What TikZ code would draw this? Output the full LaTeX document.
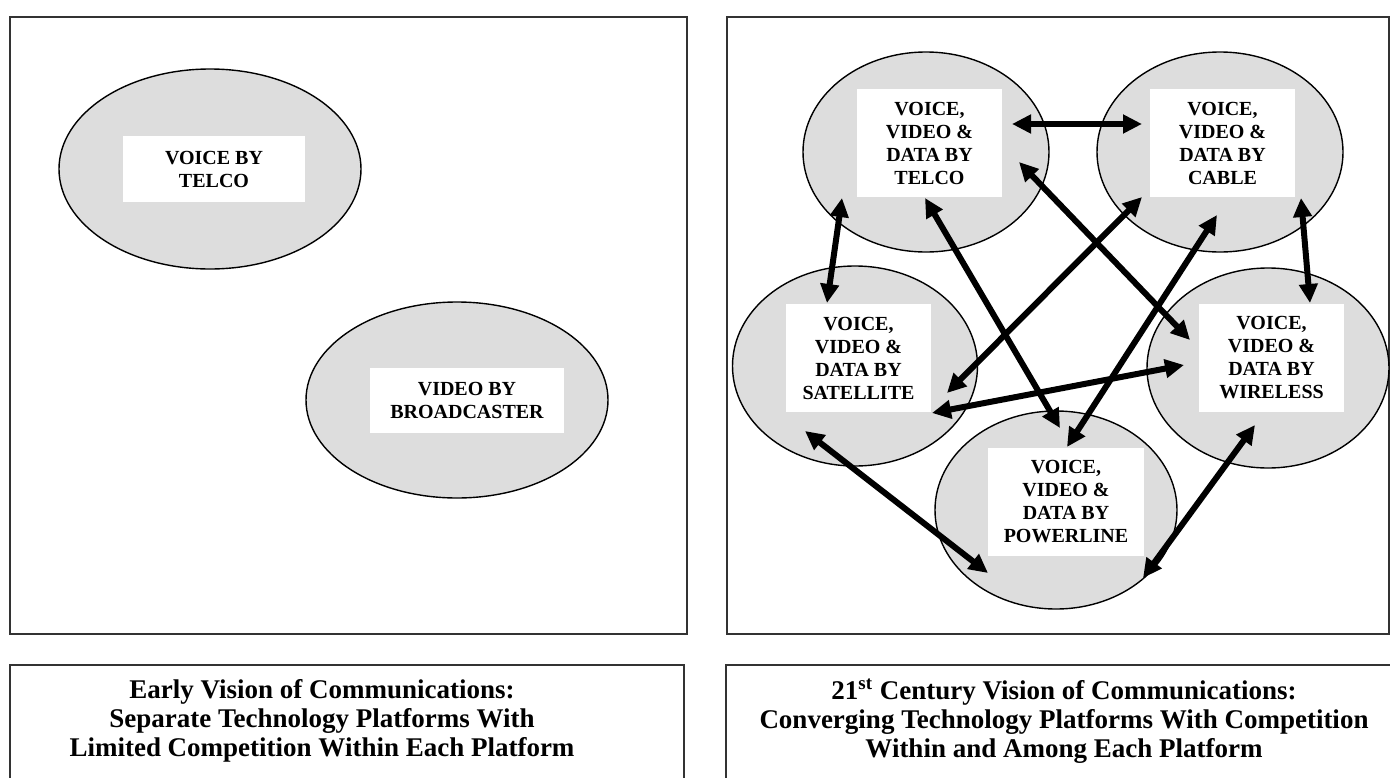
\documentclass[tikz,border=0pt]{standalone}
\usepackage{fontspec}
\setmainfont{Liberation Serif}
\usetikzlibrary{shapes.geometric,arrows.meta}
\definecolor{platgray}{HTML}{DDDDDD}
\begin{document}
\begin{tikzpicture}[x=0.5pt,y=-0.5pt,
  panel/.style={draw=black!80, line width=1pt},
  plat/.style={ellipse, draw, line width=0.7pt, fill=platgray, inner sep=0pt},
  lbl/.style={fill=white, inner sep=0pt, align=center, font=\fontsize{10}{11.5}\selectfont\bfseries},
  link/.style={line width=3pt, {Triangle[length=9.5pt,width=9pt]}-{Triangle[length=9.5pt,width=9pt]}},
  captext/.style={align=center, font=\fontsize{13.5}{14.5}\selectfont\bfseries}]
\useasboundingbox (0,0) rectangle (1393,777);
\fill[white] (0,0) rectangle (1393,777);

% panels
\draw[panel] (10,17) rectangle (687,634);
\draw[panel] (727,17) rectangle (1389,634);
\draw[panel] (10,778) -- (10,665) -- (684,665) -- (684,778);
\draw[panel] (726,778) -- (726,665) -- (1390,665);

% left panel
\node[plat, minimum width=151pt, minimum height=100pt] (etelco) at (210,169) {};
\node[lbl, minimum width=91pt, minimum height=33pt] (ltelco) at (214,169) {VOICE BY\\TELCO};
\node[plat, minimum width=151pt, minimum height=98pt] (ebroad) at (457,400) {};
\node[lbl, minimum width=97pt, minimum height=32.5pt] (lbroad) at (467,400) {VIDEO BY\\BROADCASTER};

% right panel ellipses
\node[plat, minimum width=123pt, minimum height=100pt] (telco) at (926,152) {};
\node[plat, minimum width=123pt, minimum height=100pt] (cable) at (1220,152) {};
\node[plat, minimum width=122.5pt, minimum height=100pt] (sat) at (855,366) {};
\node[plat, minimum width=121pt, minimum height=100pt] (wire) at (1268,368) {};
\node[plat, minimum width=121pt, minimum height=99pt] (power) at (1056,510) {};

\node[lbl, minimum width=72.5pt, minimum height=54pt] (btelco) at (929.5,143) {VOICE,\\VIDEO \&\\DATA BY\\TELCO};
\node[lbl, minimum width=72.5pt, minimum height=54pt] (bcable) at (1222.5,143) {VOICE,\\VIDEO \&\\DATA BY\\CABLE};
\node[lbl, minimum width=72.5pt, minimum height=54pt] (bsat) at (858.5,358) {VOICE,\\VIDEO \&\\DATA BY\\SATELLITE};
\node[lbl, minimum width=72.5pt, minimum height=54pt] (bwire) at (1271.5,358) {VOICE,\\VIDEO \&\\DATA BY\\WIRELESS};
\node[lbl, minimum width=78pt, minimum height=54pt] (bpower) at (1066,502) {VOICE,\\VIDEO \&\\DATA BY\\POWERLINE};

% arrow end points
\coordinate (tc) at (1012,124);  \coordinate (ct) at (1142,124);
\coordinate (ts) at (842,198);   \coordinate (st) at (827,303);
\coordinate (tp) at (925,198);   \coordinate (pt) at (1060,428);
\coordinate (tw) at (1019,162);  \coordinate (wt) at (1190,340);
\coordinate (cs) at (1142,197);  \coordinate (sc) at (947,393);
\coordinate (cp) at (1217,215);  \coordinate (pc) at (1067,447);
\coordinate (cw) at (1301,198);  \coordinate (wc) at (1310,303);
\coordinate (sw) at (932,413);   \coordinate (ws) at (1184,365);
\coordinate (sp) at (805,431);   \coordinate (ps) at (988,573);
\coordinate (wp) at (1255,425);  \coordinate (pw) at (1143,578);

\draw[link] (tc) -- (ct);
\draw[link] (ts) -- (st);
\draw[link] (tp) -- (pt);
\draw[link] (tw) -- (wt);
\draw[link] (cs) -- (sc);
\draw[link] (cp) -- (pc);
\draw[link] (cw) -- (wc);
\draw[link] (sw) -- (ws);
\draw[link] (sp) -- (ps);
\draw[link] (wp) -- (pw);

% captions
\node[captext] (capl) at (322,721) {Early Vision of Communications:\\Separate Technology Platforms With\\Limited Competition Within Each Platform};
\node[captext] (capr) at (1064,721) {21\textsuperscript{st} Century Vision of Communications:\\Converging Technology Platforms With Competition\\Within and Among Each Platform};
\end{tikzpicture}
\end{document}
